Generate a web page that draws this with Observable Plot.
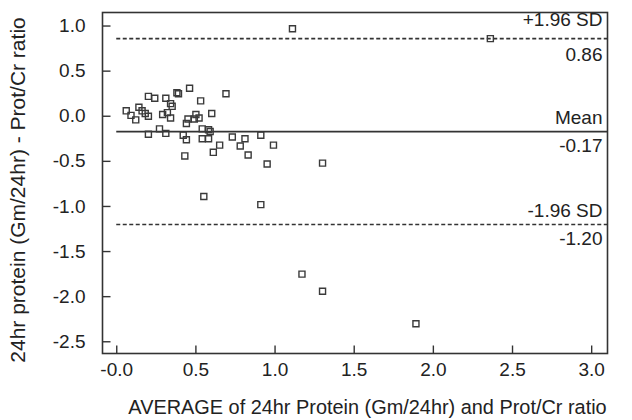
<!DOCTYPE html>
<html>
<head>
<meta charset="utf-8">
<script src="https://cdn.jsdelivr.net/npm/d3@7"></script>
<script src="https://cdn.jsdelivr.net/npm/@observablehq/plot@0.6"></script>
<style>
  html, body { margin: 0; padding: 0; background: #fff; }
  #chart { width: 632px; height: 420px; }
</style>
</head>
<body>
<div id="chart"></div>
<script>
// Average of the two methods (x) and difference (y)
const avgValues = [0.06, 0.09, 0.12, 0.14, 0.16, 0.18, 0.20, 0.20, 0.24, 0.20,
  0.27, 0.31, 0.29, 0.31, 0.34, 0.35, 0.32, 0.34, 0.38, 0.39,
  0.46, 0.53, 0.45, 0.44, 0.49, 0.50, 0.52, 0.60, 0.69, 0.42,
  0.44, 0.43, 0.54, 0.54, 0.58, 0.59, 0.58, 0.61, 0.65, 0.73,
  0.78, 0.81, 0.83, 0.91, 0.95, 0.99, 0.55, 0.91, 1.30, 1.17,
  1.30, 1.11, 1.89, 2.36];
const diffValues = [0.06, 0.01, -0.04, 0.10, 0.06, 0.03, 0.00, 0.22, 0.20, -0.20,
  -0.14, -0.19, 0.02, 0.20, 0.14, 0.11, 0.04, -0.02, 0.26, 0.25,
  0.31, 0.17, -0.03, -0.08, -0.03, 0.02, -0.02, 0.03, 0.25, -0.21,
  -0.26, -0.44, -0.14, -0.25, -0.15, -0.17, -0.25, -0.40, -0.32, -0.23,
  -0.33, -0.25, -0.43, -0.21, -0.53, -0.32, -0.89, -0.98, -0.52, -1.75,
  -1.94, 0.97, -2.30, 0.86];

// Limits of agreement
const limitValues = [0.86, -0.17, -1.20];
const limitNames = ["+1.96 SD", "Mean", "-1.96 SD"];
const limitLabels = ["0.86", "-0.17", "-1.20"];
const limitDashed = [true, false, true];

// Axis ticks
const xTicks = [0, 0.5, 1.0, 1.5, 2.0, 2.5, 3.0];
const xTickLabels = ["-0.0", "0.5", "1.0", "1.5", "2.0", "2.5", "3.0"];
const yTicks = [1.0, 0.5, 0.0, -0.5, -1.0, -1.5, -2.0, -2.5];
const yTickLabels = ["1.0", "0.5", "0.0", "-0.5", "-1.0", "-1.5", "-2.0", "-2.5"];

const xTitle = "AVERAGE of 24hr Protein (Gm/24hr) and Prot/Cr ratio";
const yTitle = "24hr protein (Gm/24hr) - Prot/Cr ratio";

const points = avgValues.map((x, i) => ({x, y: diffValues[i]}));
const limits = limitValues.map((v, i) => ({v, name: limitNames[i], label: limitLabels[i], dashed: limitDashed[i], i}));
const xTickRows = xTicks.map(v => ({v}));
const yTickRows = yTicks.map(v => ({v}));

const W = 632, H = 420, mL = 102, mR = 25, mT = 12, mB = 67;
const frameW = W - mL - mR, frameH = H - mT - mB;
const tickLen = 8;
const xDomain = [-0.09, 3.1];
const yDomain = [-2.63, 1.15];
// tick length converted to data units of each scale
const xTickSpan = tickLen * (xDomain[1] - xDomain[0]) / frameW;
const yTickSpan = tickLen * (yDomain[1] - yDomain[0]) / frameH;
const ink = "#222";
const fs = 19;

const chart = Plot.plot({
  width: W,
  height: H,
  marginLeft: mL,
  marginRight: mR,
  marginTop: mT,
  marginBottom: mB,
  style: {fontFamily: "'Liberation Sans', Arial, sans-serif", fontSize: fs + "px", color: ink, background: "#fff"},
  x: {domain: xDomain},
  y: {domain: yDomain},
  marks: [
    // inward ticks (short segments from the frame)
    Plot.link(xTickRows, {x1: "v", x2: "v", y1: () => yDomain[0], y2: () => yDomain[0] + yTickSpan, stroke: "#333", strokeWidth: 1.4}),
    Plot.link(yTickRows, {y1: "v", y2: "v", x1: () => xDomain[0], x2: () => xDomain[0] + xTickSpan, stroke: "#333", strokeWidth: 1.4}),
    Plot.frame({stroke: "#333", strokeWidth: 1.6}),
    // tick labels
    Plot.axisX(xTicks, {tickSize: 0, tickPadding: 9, tickFormat: (d, i) => xTickLabels[i], fontSize: fs, fill: ink, label: null}),
    Plot.axisY(yTicks, {tickSize: 0, tickPadding: 17, tickFormat: (d, i) => yTickLabels[i], fontSize: fs, fill: ink, label: null}),
    // axis titles
    Plot.text([xTitle], {frameAnchor: "bottom", text: d => d, dx: 12.5, dy: 54, textAnchor: "middle", lineAnchor: "middle", fontSize: 19.9, fill: ink}),
    Plot.text([yTitle], {frameAnchor: "left", text: d => d, rotate: -90, dx: -84, dy: 7, textAnchor: "middle", lineAnchor: "middle", fontSize: 21, fill: ink}),
    // limit lines
    Plot.ruleY(limits.filter(d => d.dashed), {y: "v", x1: 0, x2: xDomain[1], stroke: "#333", strokeWidth: 1.6, strokeDasharray: "4,2.5"}),
    Plot.ruleY(limits.filter(d => !d.dashed), {y: "v", x1: 0, x2: xDomain[1], stroke: "#333", strokeWidth: 1.8}),
    Plot.text(limits.filter(d => d.i === 0), {y: "v", x: xDomain[1], text: "name", textAnchor: "end", dx: -5, dy: -19, fontSize: fs, fill: ink}),
    Plot.text(limits.filter(d => d.i !== 0), {y: "v", x: xDomain[1], text: "name", textAnchor: "end", dx: -5, dy: -14, fontSize: fs, fill: ink}),
    Plot.text(limits.filter(d => d.i === 0), {y: "v", x: xDomain[1], text: "label", textAnchor: "end", dx: -5, dy: 16, fontSize: fs, fill: ink}),
    Plot.text(limits.filter(d => d.i !== 0), {y: "v", x: xDomain[1], text: "label", textAnchor: "end", dx: -5, dy: 14, fontSize: fs, fill: ink}),
    // data
    Plot.dot(points, {x: "x", y: "y", symbol: "square", r: 3.4, stroke: "#3a3a3a", strokeWidth: 1.4, fill: "none"})
  ]
});
document.getElementById("chart").appendChild(chart);
</script>
</body>
</html>
